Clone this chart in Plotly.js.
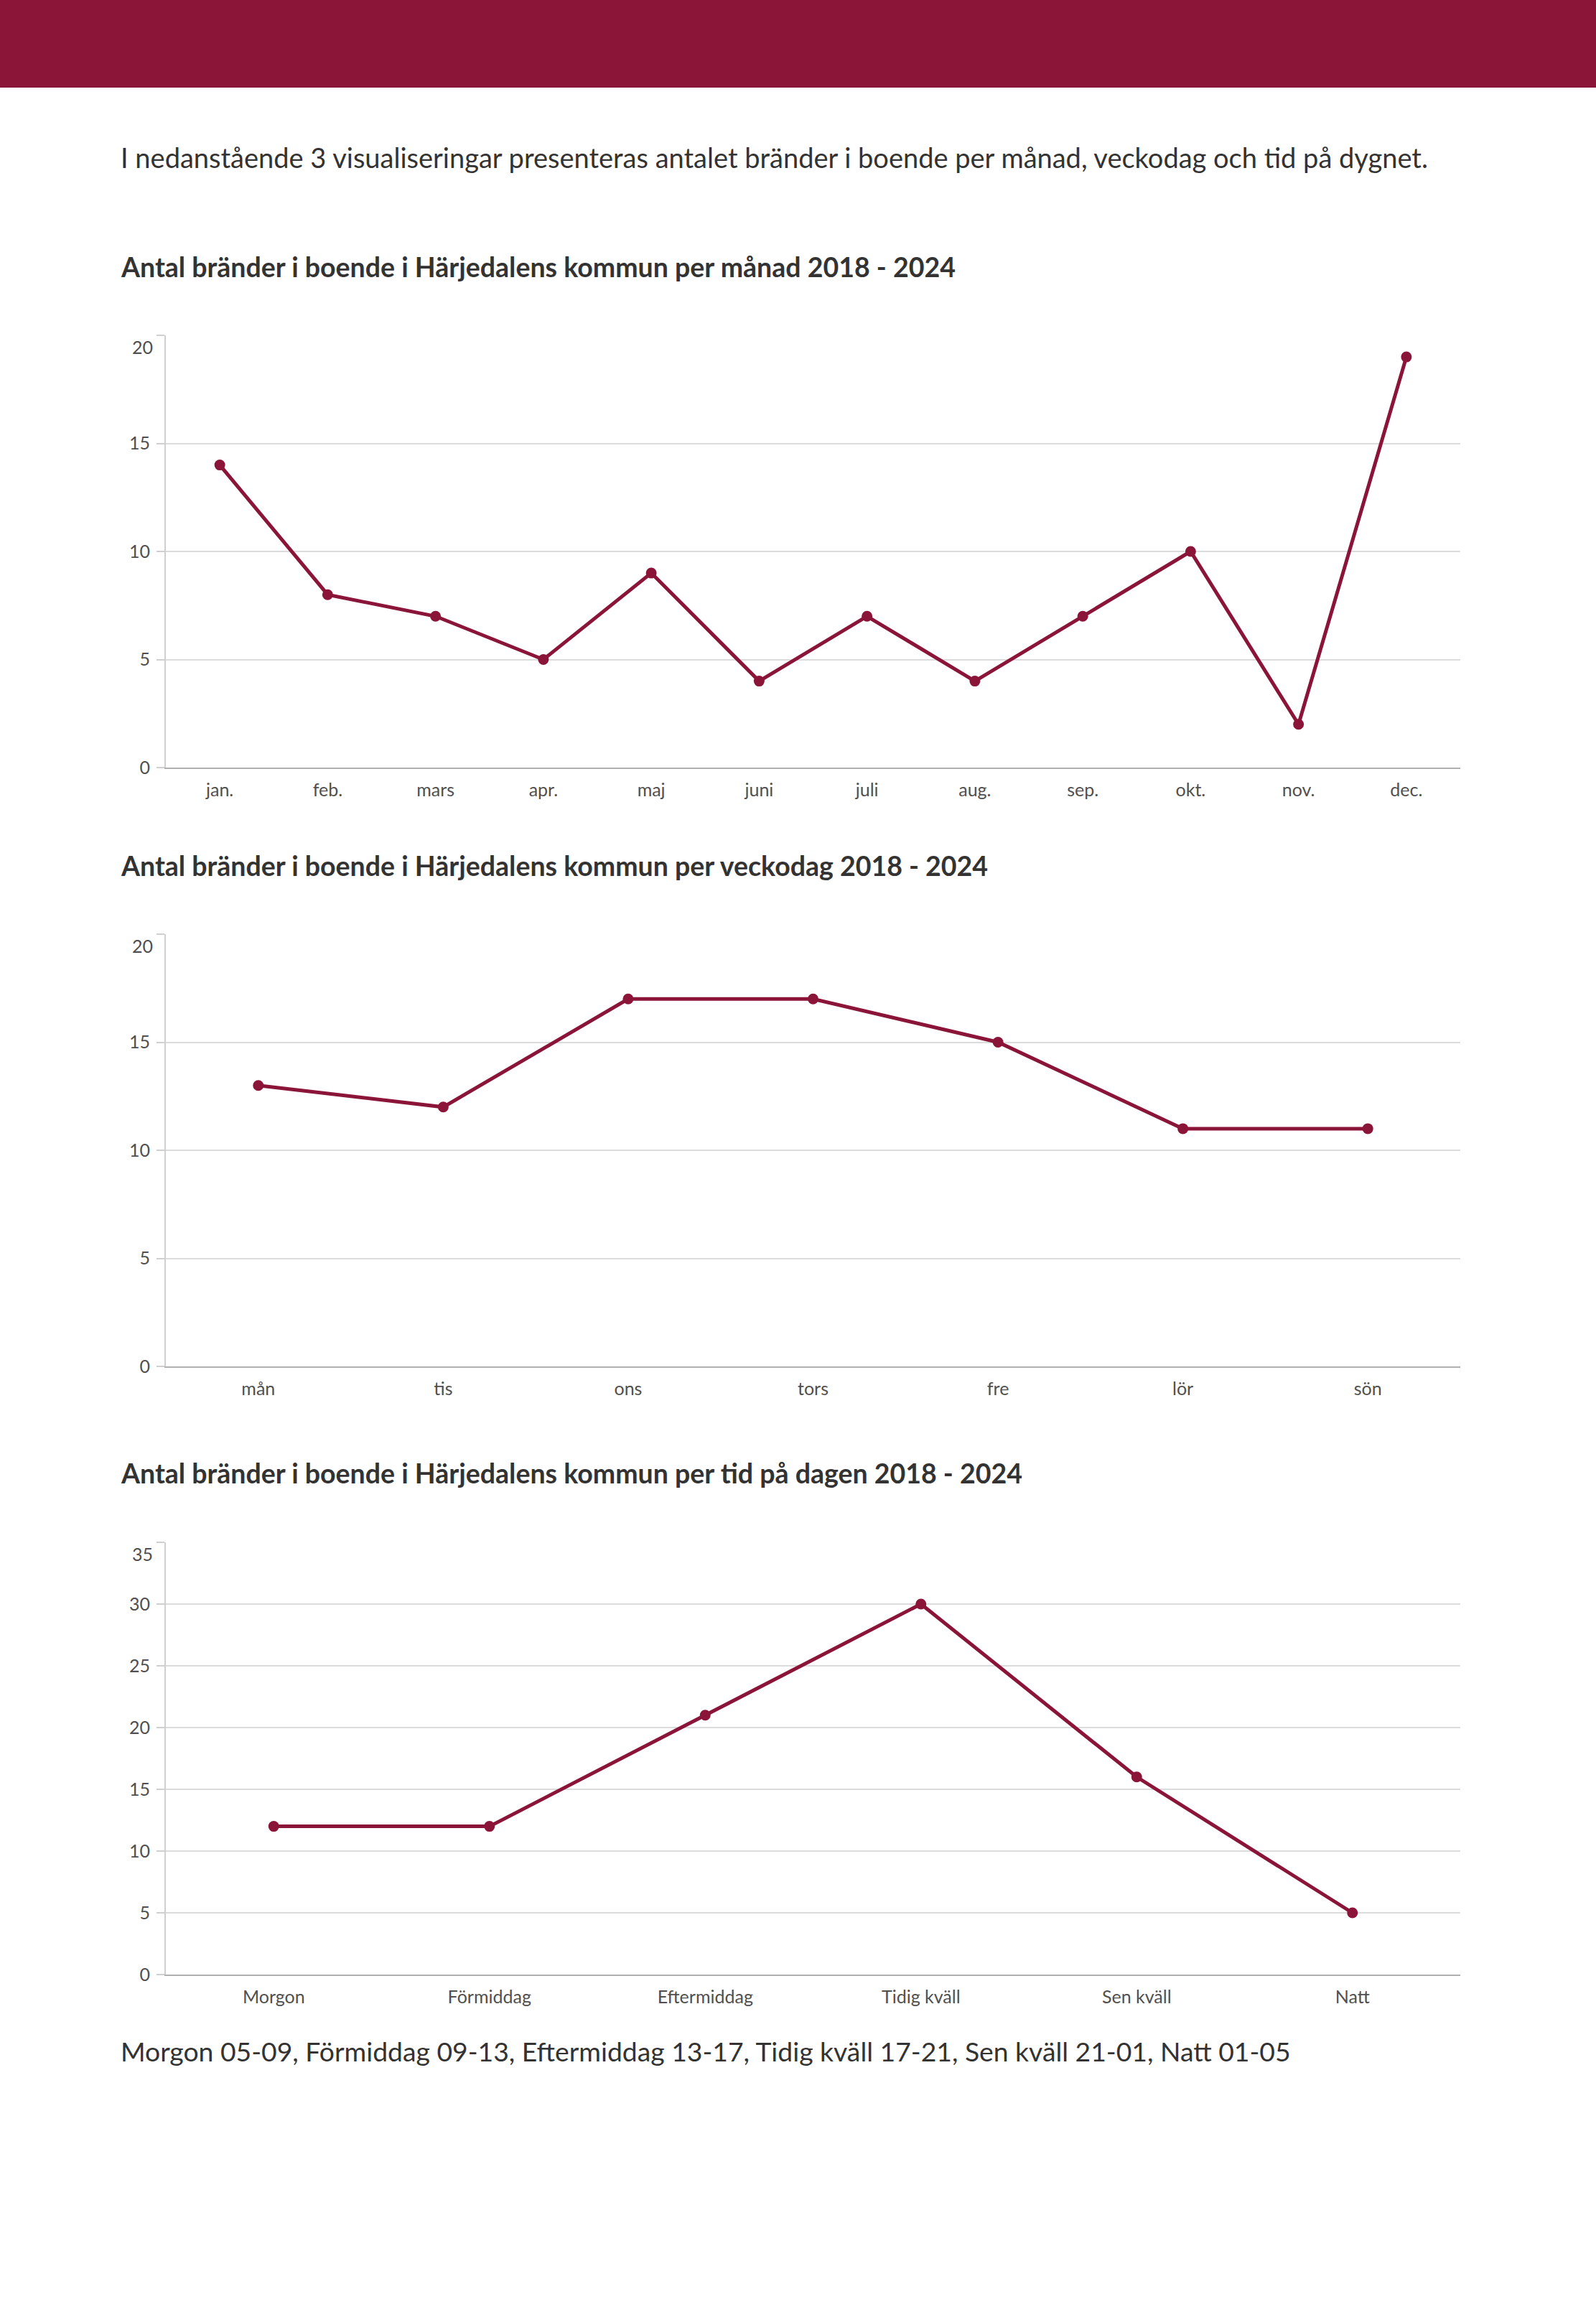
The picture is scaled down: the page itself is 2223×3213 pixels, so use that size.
<!DOCTYPE html>
<html>
<head>
<meta charset="utf-8">
<script src="https://cdn.plot.ly/plotly-3.0.1.min.js"></script>
<style>
html,body{margin:0;padding:0;background:#fff;}
#chart{width:2223px;height:3213px;}
</style>
</head>
<body>
<div id="chart"></div>
<script>
// ---- data ----
const months = ["jan.","feb.","mars","apr.","maj","juni","juli","aug.","sep.","okt.","nov.","dec."];
const monthValues = [14,8,7,5,9,4,7,4,7,10,2,19];

const weekdays = ["mån","tis","ons","tors","fre","lör","sön"];
const weekdayValues = [13,12,17,17,15,11,11];

const dayParts = ["Morgon","Förmiddag","Eftermiddag","Tidig kväll","Sen kväll","Natt"];
const dayPartValues = [12,12,21,30,16,5];

const yTicks1 = [0,5,10,15,20];
const yTicks2 = [0,5,10,15,20];
const yTicks3 = [0,5,10,15,20,25,30,35];

const introText = "I nedanstående 3 visualiseringar presenteras antalet bränder i boende per månad, veckodag och tid på dygnet.";
const title1 = "Antal bränder i boende i Härjedalens kommun per månad 2018 - 2024";
const title2 = "Antal bränder i boende i Härjedalens kommun per veckodag 2018 - 2024";
const title3 = "Antal bränder i boende i Härjedalens kommun per tid på dagen 2018 - 2024";
const footText = "Morgon 05-09, Förmiddag 09-13, Eftermiddag 13-17, Tidig kväll 17-21, Sen kväll 21-01, Natt 01-05";

// ---- layout helpers ----
const W = 2223, H = 3213;
const MAROON = "#8B1538";
const FONT = "Lato, 'Open Sans', sans-serif";
const TICKCOL = "#505050";
const px = v => v / W;
const py = v => 1 - v / H;

function line(x, y, xa, ya) {
  return {
    type: "scatter", mode: "lines+markers", x: x, y: y, xaxis: xa, yaxis: ya,
    line: {color: MAROON, width: 5},
    marker: {color: MAROON, size: 15},
    showlegend: false, hoverinfo: "x+y"
  };
}

function xAxis(n, anchor) {
  return {
    domain: [px(231), px(2034)],
    anchor: anchor,
    type: "category",
    range: [-0.5, n - 0.5],
    showgrid: false, zeroline: false,
    showline: true, linecolor: "#b0b0b0", linewidth: 2,
    ticks: "", ticklabelstandoff: 8,
    tickfont: {family: FONT, size: 25, color: TICKCOL},
    fixedrange: true
  };
}
// top tick label is drawn lower (inside the plot) by an annotation, as in the reference
function yAxis(ticks, anchor, top, bottom) {
  const maxV = ticks[ticks.length - 1];
  return {
    domain: [py(bottom), py(top)],
    anchor: anchor,
    range: [0, maxV],
    tickmode: "array", tickvals: ticks,
    ticktext: ticks.map((t, i) => i === ticks.length - 1 ? "" : String(t)),
    showgrid: true, gridcolor: "#dcdcdc", gridwidth: 2,
    zeroline: false,
    showline: true, linecolor: "#d0d0d0", linewidth: 2,
    ticks: "outside", ticklen: 11, tickcolor: "#d0d0d0", tickwidth: 2,
    ticklabelstandoff: 4,
    tickfont: {family: FONT, size: 25, color: TICKCOL},
    fixedrange: true
  };
}
function topLabel(ticks, xref, yref) {
  const v = ticks[ticks.length - 1];
  return {
    xref: "paper", yref: yref, x: px(215), y: v,
    xanchor: "right", yanchor: "middle", yshift: -16, showarrow: false,
    text: String(v), font: {family: FONT, size: 25, color: TICKCOL}
  };
}

const data = [
  line(months, monthValues, "x", "y"),
  line(weekdays, weekdayValues, "x2", "y2"),
  line(dayParts, dayPartValues, "x3", "y3")
];

function textAnn(text, x, y, size, bold, color) {
  return {
    xref: "paper", yref: "paper", x: px(x), y: py(y),
    xanchor: "left", yanchor: "middle", showarrow: false,
    text: bold ? "<b>" + text + "</b>" : text,
    font: {family: FONT, size: size, color: color || "#333333"}
  };
}

const layout = {
  width: W, height: H,
  margin: {l: 0, r: 0, t: 0, b: 0, pad: 0},
  paper_bgcolor: "#ffffff", plot_bgcolor: "#ffffff",
  showlegend: false,
  xaxis: xAxis(months.length, "y"),
  yaxis: yAxis(yTicks1, "x", 467, 1069),
  xaxis2: xAxis(weekdays.length, "y2"),
  yaxis2: yAxis(yTicks2, "x2", 1301, 1903),
  xaxis3: xAxis(dayParts.length, "y3"),
  yaxis3: yAxis(yTicks3, "x3", 2148, 2750),
  shapes: [{
    type: "rect", xref: "paper", yref: "paper",
    x0: 0, x1: 1, y0: py(122), y1: 1,
    fillcolor: MAROON, line: {width: 0}, layer: "above"
  }],
  annotations: [
    textAnn(introText, 166, 219, 38, false, "#333333"),
    textAnn(title1, 166, 371, 37.5, true, "#333333"),
    textAnn(title2, 166, 1205, 37.5, true, "#333333"),
    textAnn(title3, 166, 2051, 37.5, true, "#333333"),
    textAnn(footText, 166, 2856, 37.3, false, "#333333"),
    topLabel(yTicks1, "x", "y"),
    topLabel(yTicks2, "x2", "y2"),
    topLabel(yTicks3, "x3", "y3")
  ]
};

Plotly.newPlot("chart", data, layout, {displayModeBar: false, staticPlot: true});
</script>
</body>
</html>
